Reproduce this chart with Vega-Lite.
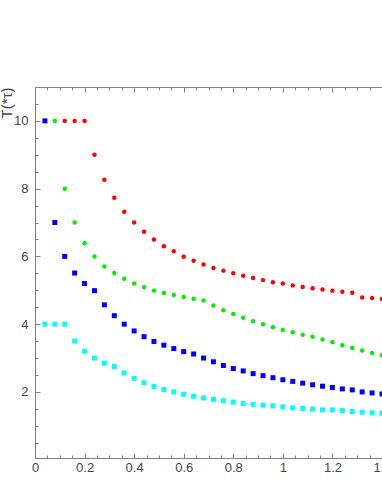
{
  "$schema": "https://vega.github.io/schema/vega-lite/v6.json",
  "width": 347,
  "height": 371,
  "autosize": {"type": "none"},
  "padding": {"left": 35, "top": 87, "right": 0, "bottom": 36},
  "background": "white",
  "config": {
    "view": {"stroke": null},
    "axis": {
      "grid": false,
      "domainColor": "#808080",
      "tickColor": "#808080",
      "domainWidth": 1,
      "tickWidth": 1,
      "labelFont": "Liberation Sans",
      "labelFontSize": 13,
      "labelColor": "#444444",
      "labelFlush": false,
      "labelOverlap": false,
      "titleFont": "Liberation Sans",
      "titleFontWeight": "normal",
      "titleColor": "#444444"
    }
  },
  "data": {
    "values": [
      {"s": "r", "x": 0.12, "y": 10}, {"s": "r", "x": 0.16, "y": 10}, {"s": "r", "x": 0.20, "y": 10},
      {"s": "r", "x": 0.24, "y": 9.0}, {"s": "r", "x": 0.28, "y": 8.26}, {"s": "r", "x": 0.32, "y": 7.73},
      {"s": "r", "x": 0.36, "y": 7.32}, {"s": "r", "x": 0.40, "y": 7.0}, {"s": "r", "x": 0.44, "y": 6.73},
      {"s": "r", "x": 0.48, "y": 6.50}, {"s": "r", "x": 0.52, "y": 6.30}, {"s": "r", "x": 0.56, "y": 6.15},
      {"s": "r", "x": 0.60, "y": 5.99}, {"s": "r", "x": 0.64, "y": 5.87}, {"s": "r", "x": 0.68, "y": 5.76},
      {"s": "r", "x": 0.72, "y": 5.66}, {"s": "r", "x": 0.76, "y": 5.58}, {"s": "r", "x": 0.80, "y": 5.50},
      {"s": "r", "x": 0.84, "y": 5.43}, {"s": "r", "x": 0.88, "y": 5.36}, {"s": "r", "x": 0.92, "y": 5.30},
      {"s": "r", "x": 0.96, "y": 5.24}, {"s": "r", "x": 1.00, "y": 5.20}, {"s": "r", "x": 1.04, "y": 5.14},
      {"s": "r", "x": 1.08, "y": 5.10}, {"s": "r", "x": 1.12, "y": 5.06}, {"s": "r", "x": 1.16, "y": 5.02},
      {"s": "r", "x": 1.20, "y": 4.99}, {"s": "r", "x": 1.24, "y": 4.96}, {"s": "r", "x": 1.28, "y": 4.93},
      {"s": "r", "x": 1.32, "y": 4.79}, {"s": "r", "x": 1.36, "y": 4.77}, {"s": "r", "x": 1.40, "y": 4.74},

      {"s": "g", "x": 0.08, "y": 10}, {"s": "g", "x": 0.12, "y": 8.0}, {"s": "g", "x": 0.16, "y": 7.0},
      {"s": "g", "x": 0.20, "y": 6.39}, {"s": "g", "x": 0.24, "y": 6.0}, {"s": "g", "x": 0.28, "y": 5.70},
      {"s": "g", "x": 0.32, "y": 5.51}, {"s": "g", "x": 0.36, "y": 5.34}, {"s": "g", "x": 0.40, "y": 5.20},
      {"s": "g", "x": 0.44, "y": 5.09}, {"s": "g", "x": 0.48, "y": 4.99}, {"s": "g", "x": 0.52, "y": 4.92},
      {"s": "g", "x": 0.56, "y": 4.86}, {"s": "g", "x": 0.60, "y": 4.80}, {"s": "g", "x": 0.64, "y": 4.75},
      {"s": "g", "x": 0.68, "y": 4.70}, {"s": "g", "x": 0.72, "y": 4.55}, {"s": "g", "x": 0.76, "y": 4.41},
      {"s": "g", "x": 0.80, "y": 4.30}, {"s": "g", "x": 0.84, "y": 4.19}, {"s": "g", "x": 0.88, "y": 4.09},
      {"s": "g", "x": 0.92, "y": 4.00}, {"s": "g", "x": 0.96, "y": 3.91}, {"s": "g", "x": 1.00, "y": 3.83},
      {"s": "g", "x": 1.04, "y": 3.76}, {"s": "g", "x": 1.08, "y": 3.69}, {"s": "g", "x": 1.12, "y": 3.63},
      {"s": "g", "x": 1.16, "y": 3.55}, {"s": "g", "x": 1.20, "y": 3.47}, {"s": "g", "x": 1.24, "y": 3.38},
      {"s": "g", "x": 1.28, "y": 3.30}, {"s": "g", "x": 1.32, "y": 3.22}, {"s": "g", "x": 1.36, "y": 3.15},
      {"s": "g", "x": 1.40, "y": 3.08},

      {"s": "b", "x": 0.04, "y": 10}, {"s": "b", "x": 0.08, "y": 7.0}, {"s": "b", "x": 0.12, "y": 6.0},
      {"s": "b", "x": 0.16, "y": 5.51}, {"s": "b", "x": 0.20, "y": 5.20}, {"s": "b", "x": 0.24, "y": 4.99},
      {"s": "b", "x": 0.28, "y": 4.57}, {"s": "b", "x": 0.32, "y": 4.25}, {"s": "b", "x": 0.36, "y": 4.0},
      {"s": "b", "x": 0.40, "y": 3.80}, {"s": "b", "x": 0.44, "y": 3.63}, {"s": "b", "x": 0.48, "y": 3.49},
      {"s": "b", "x": 0.52, "y": 3.38}, {"s": "b", "x": 0.56, "y": 3.28}, {"s": "b", "x": 0.60, "y": 3.19},
      {"s": "b", "x": 0.64, "y": 3.12}, {"s": "b", "x": 0.68, "y": 3.00}, {"s": "b", "x": 0.72, "y": 2.89},
      {"s": "b", "x": 0.76, "y": 2.78}, {"s": "b", "x": 0.80, "y": 2.69}, {"s": "b", "x": 0.84, "y": 2.62},
      {"s": "b", "x": 0.88, "y": 2.54}, {"s": "b", "x": 0.92, "y": 2.48}, {"s": "b", "x": 0.96, "y": 2.42},
      {"s": "b", "x": 1.00, "y": 2.36}, {"s": "b", "x": 1.04, "y": 2.31}, {"s": "b", "x": 1.08, "y": 2.26},
      {"s": "b", "x": 1.12, "y": 2.21}, {"s": "b", "x": 1.16, "y": 2.17}, {"s": "b", "x": 1.20, "y": 2.13},
      {"s": "b", "x": 1.24, "y": 2.09}, {"s": "b", "x": 1.28, "y": 2.06}, {"s": "b", "x": 1.32, "y": 2.00},
      {"s": "b", "x": 1.36, "y": 1.97}, {"s": "b", "x": 1.40, "y": 1.94},

      {"s": "c", "x": 0.04, "y": 4.0}, {"s": "c", "x": 0.08, "y": 4.0}, {"s": "c", "x": 0.12, "y": 4.0},
      {"s": "c", "x": 0.16, "y": 3.50}, {"s": "c", "x": 0.20, "y": 3.20}, {"s": "c", "x": 0.24, "y": 3.0},
      {"s": "c", "x": 0.28, "y": 2.85}, {"s": "c", "x": 0.32, "y": 2.75}, {"s": "c", "x": 0.36, "y": 2.56},
      {"s": "c", "x": 0.40, "y": 2.40}, {"s": "c", "x": 0.44, "y": 2.27}, {"s": "c", "x": 0.48, "y": 2.16},
      {"s": "c", "x": 0.52, "y": 2.07}, {"s": "c", "x": 0.56, "y": 2.00}, {"s": "c", "x": 0.60, "y": 1.93},
      {"s": "c", "x": 0.64, "y": 1.87}, {"s": "c", "x": 0.68, "y": 1.82}, {"s": "c", "x": 0.72, "y": 1.78},
      {"s": "c", "x": 0.76, "y": 1.74}, {"s": "c", "x": 0.80, "y": 1.70}, {"s": "c", "x": 0.84, "y": 1.66},
      {"s": "c", "x": 0.88, "y": 1.63}, {"s": "c", "x": 0.92, "y": 1.61}, {"s": "c", "x": 0.96, "y": 1.59},
      {"s": "c", "x": 1.00, "y": 1.56}, {"s": "c", "x": 1.04, "y": 1.53}, {"s": "c", "x": 1.08, "y": 1.51},
      {"s": "c", "x": 1.12, "y": 1.49}, {"s": "c", "x": 1.16, "y": 1.47}, {"s": "c", "x": 1.20, "y": 1.47},
      {"s": "c", "x": 1.24, "y": 1.45}, {"s": "c", "x": 1.28, "y": 1.42}, {"s": "c", "x": 1.32, "y": 1.40},
      {"s": "c", "x": 1.36, "y": 1.38}, {"s": "c", "x": 1.40, "y": 1.37}
    ]
  },
  "layer": [
    {
      "transform": [{"filter": "datum.s === 'r'"}],
      "mark": {"type": "point", "shape": "circle", "filled": true, "opacity": 1, "size": 20},
      "encoding": {
        "x": {"field": "x", "type": "quantitative", "scale": {"domain": [0, 1.4], "nice": false, "zero": false},
          "axis": {"orient": "bottom", "values": [0, 0.2, 0.4, 0.6, 0.8, 1, 1.2, 1.4], "format": "~r", "tickSize": -5, "labelPadding": 8, "title": null}},
        "y": {"field": "y", "type": "quantitative", "scale": {"domain": [0.05, 11], "nice": false, "zero": false},
          "axis": {"orient": "left", "values": [2, 4, 6, 8, 10], "format": "~r", "tickSize": -5, "labelPadding": 12,
            "title": "T(*τ)", "titleFontSize": 15, "titleAngle": -90, "titleAlign": "right", "titleBaseline": "middle",
            "titleX": -29, "titleY": 0}},
        "color": {"field": "s", "type": "nominal", "scale": {"domain": ["r", "g", "b", "c"], "range": ["#ff0000", "#00ee00", "#0000ff", "#00ffff"]}, "legend": null}
      }
    },
    {
      "transform": [{"filter": "datum.s === 'g'"}],
      "mark": {"type": "point", "shape": "circle", "filled": true, "opacity": 1, "size": 20},
      "encoding": {
        "x": {"field": "x", "type": "quantitative", "scale": {"domain": [0, 1.4], "nice": false, "zero": false},
          "axis": {"orient": "bottom", "values": [0.05, 0.1, 0.15, 0.25, 0.3, 0.35, 0.45, 0.5, 0.55, 0.65, 0.7, 0.75, 0.85, 0.9, 0.95, 1.05, 1.1, 1.15, 1.25, 1.3, 1.35], "tickSize": -3, "labels": false, "domain": false, "title": null}},
        "y": {"field": "y", "type": "quantitative", "scale": {"domain": [0.05, 11], "nice": false, "zero": false},
          "axis": {"orient": "left", "values": [0.5, 1, 1.5, 2.5, 3, 3.5, 4.5, 5, 5.5, 6.5, 7, 7.5, 8.5, 9, 9.5, 10.5], "tickSize": -3, "labels": false, "domain": false, "title": null}},
        "color": {"field": "s", "type": "nominal", "scale": {"domain": ["r", "g", "b", "c"], "range": ["#ff0000", "#00ee00", "#0000ff", "#00ffff"]}, "legend": null}
      }
    },
    {
      "transform": [{"filter": "datum.s === 'b'"}],
      "mark": {"type": "point", "shape": "square", "filled": true, "opacity": 1, "size": 25},
      "encoding": {
        "x": {"field": "x", "type": "quantitative", "scale": {"domain": [0, 1.4], "nice": false, "zero": false},
          "axis": {"orient": "top", "values": [0, 0.2, 0.4, 0.6, 0.8, 1, 1.2, 1.4], "tickSize": -5, "labels": false, "title": null}},
        "y": {"field": "y", "type": "quantitative", "scale": {"domain": [0.05, 11], "nice": false, "zero": false}, "axis": null},
        "color": {"field": "s", "type": "nominal", "scale": {"domain": ["r", "g", "b", "c"], "range": ["#ff0000", "#00ee00", "#0000ff", "#00ffff"]}, "legend": null}
      }
    },
    {
      "transform": [{"filter": "datum.s === 'c'"}],
      "mark": {"type": "point", "shape": "square", "filled": true, "opacity": 1, "size": 25},
      "encoding": {
        "x": {"field": "x", "type": "quantitative", "scale": {"domain": [0, 1.4], "nice": false, "zero": false},
          "axis": {"orient": "top", "values": [0.05, 0.1, 0.15, 0.25, 0.3, 0.35, 0.45, 0.5, 0.55, 0.65, 0.7, 0.75, 0.85, 0.9, 0.95, 1.05, 1.1, 1.15, 1.25, 1.3, 1.35], "tickSize": -3, "labels": false, "domain": false, "title": null}},
        "y": {"field": "y", "type": "quantitative", "scale": {"domain": [0.05, 11], "nice": false, "zero": false}, "axis": null},
        "color": {"field": "s", "type": "nominal", "scale": {"domain": ["r", "g", "b", "c"], "range": ["#ff0000", "#00ee00", "#0000ff", "#00ffff"]}, "legend": null}
      }
    }
  ],
  "resolve": {"axis": {"x": "independent", "y": "independent"}}
}
